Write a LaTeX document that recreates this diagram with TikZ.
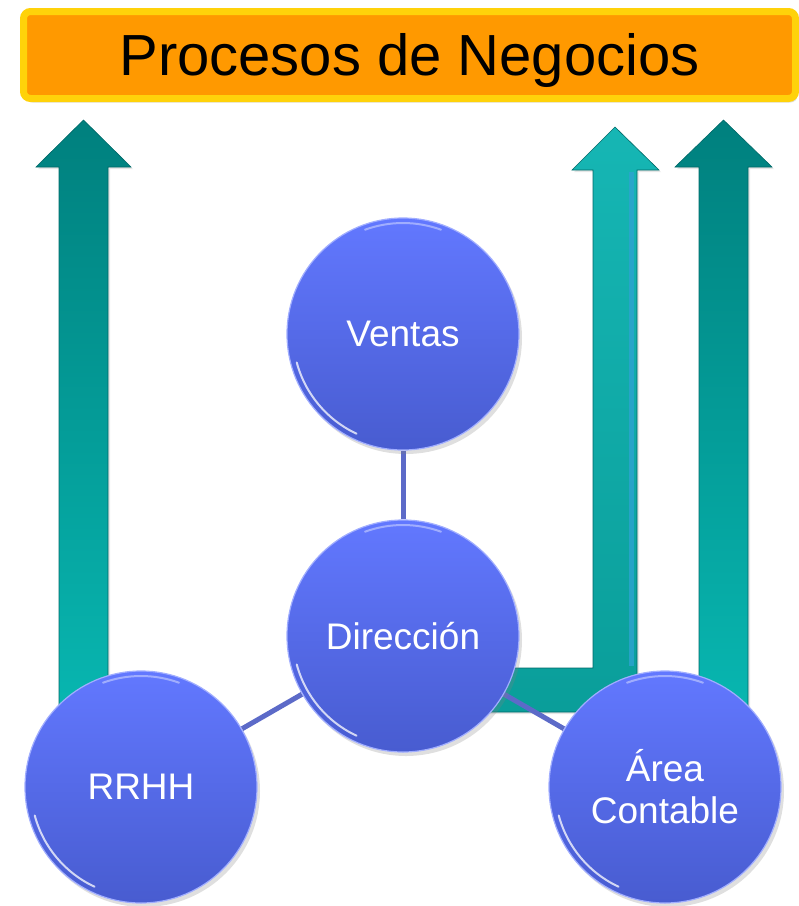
\documentclass[tikz,border=0pt]{standalone}
\usepackage{fontspec}
\setmainfont{Liberation Sans}
\usetikzlibrary{shadows}
\pgfdeclarelayer{arrowlayer}
\pgfdeclarelayer{linelayer}
\pgfsetlayers{arrowlayer,linelayer,main}
\definecolor{orangeT}{RGB}{255,153,0}
\definecolor{yellowT}{RGB}{255,210,10}
\definecolor{tealD}{RGB}{0,128,126}
\definecolor{tealL}{RGB}{8,184,178}
\definecolor{tealM}{RGB}{22,182,180}
\definecolor{tealN}{RGB}{10,158,154}
\definecolor{tealE}{RGB}{0,105,104}
\definecolor{bubT}{RGB}{98,120,255}
\definecolor{bubB}{RGB}{72,92,208}
\definecolor{connC}{RGB}{92,106,200}
\tikzset{
  titlebox/.style={draw=yellowT, line width=7pt, fill=orangeT, rounded corners=7pt,
    minimum width=772pt, minimum height=87pt, text height=41.5pt, text depth=0pt,
    font=\fontsize{58}{60}\selectfont, text=black,
    drop shadow={opacity=0.25, shadow xshift=2pt, shadow yshift=-4pt}},
  uparrow/.style={top color=tealD, bottom color=tealL, draw=tealE, line width=0.6pt,
    drop shadow={opacity=0.2, shadow xshift=2pt, shadow yshift=-2pt}},
  midarrow/.style={top color=tealM, bottom color=tealN, draw=tealE, line width=0.6pt,
    drop shadow={opacity=0.2, shadow xshift=2pt, shadow yshift=-2pt}},
  bub/.style={circle, minimum size=232pt, inner sep=0pt, top color=bubT, bottom color=bubB,
    draw=bubT!60!white, line width=1.2pt, text=white, align=center,
    font=\fontsize{37}{42}\selectfont,
    drop shadow={opacity=0.25, shadow xshift=3pt, shadow yshift=-4pt}},
  conn/.style={draw=connC, line width=5pt},
  rim/.style={draw=white, line width=2pt, opacity=0.75, line cap=round}
}
\begin{document}
\begin{tikzpicture}[x=1pt,y=-1pt]
\useasboundingbox (0,0) rectangle (799,906);
% title
\node[titlebox] (title) at (409.5,55) {Procesos de Negocios};
% circles
\node[bub] (ven) at (403,334) {Ventas};
\node[bub] (dir) at (403,636) {Dirección};
\node[bub] (rrhh) at (141,787) {RRHH};
\node[bub] (area) at (665,787) {Área\\Contable};
% rim highlights
\foreach \n in {ven,dir,rrhh,area}{
  \draw[rim] (\n.center) ++(115:110) arc[start angle=115, end angle=165, radius=110];
  \draw[rim, opacity=0.4] (\n.center) ++(250:111) arc[start angle=250, end angle=290, radius=111];
}
% arrows
\begin{pgfonlayer}{arrowlayer}
\path[uparrow] (59,730) -- (59,167) -- (36,167) -- (83.5,120) -- (131,167) -- (108,167) -- (108,730) -- cycle;
\path[midarrow] (593,668) -- (593,170) -- (572,170) -- (615,127) -- (659,170) -- (637,170)
   -- (637,712) -- (470,712) -- (470,668) -- cycle;
\fill[cyan!45!tealM, opacity=0.8] (629,172) rectangle (634,666);
\path[uparrow] (699,730) -- (699,167) -- (675,167) -- (723.5,120) -- (772,167) -- (748,167) -- (748,730) -- cycle;
\end{pgfonlayer}
% connectors
\begin{pgfonlayer}{linelayer}
\draw[conn] (ven) -- (dir);
\draw[conn] (dir) -- (rrhh);
\draw[conn] (dir) -- (area);
\end{pgfonlayer}
\end{tikzpicture}
\end{document}
